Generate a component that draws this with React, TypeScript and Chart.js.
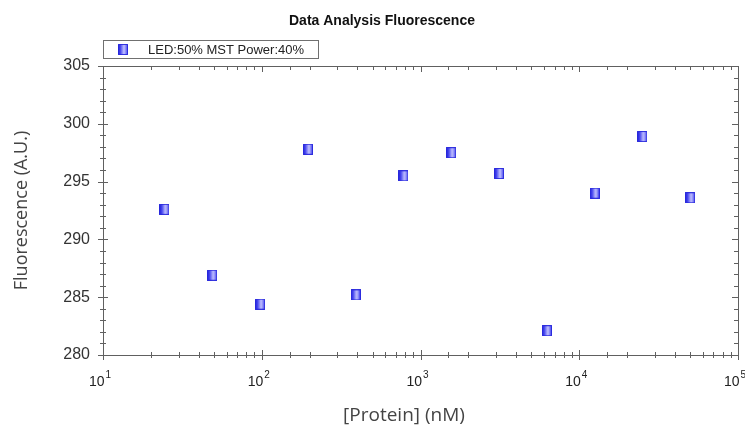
import React, { useEffect, useRef } from 'react';
import { Chart, registerables } from 'chart.js';

Chart.register(...registerables);

const concentrations = [24.4, 48.8, 97.7, 195.3, 390.6, 781.25, 1562.5, 3125, 6250, 12500, 25000, 50000];
const fluorescence = [292.6, 286.9, 284.4, 297.8, 285.2, 295.5, 297.5, 295.7, 282.1, 294.0, 298.9, 293.6];
const seriesLabel = 'LED:50% MST Power:40%';
const chartTitle = 'Data Analysis Fluorescence';
const xTitle = '[Protein] (nM)';
const yTitle = 'Fluorescence (A.U.)';
const xTickBase = '10';
const xTickExponents = ['1', '2', '3', '4', '5'];
const xMin = 10;
const xMax = 100000;
const yMin = 280;
const yMax = 305;
const yStep = 1;
const yLabelStep = 5;

function makeMarker(w: number, h: number): HTMLCanvasElement {
  const c = document.createElement('canvas');
  c.width = w;
  c.height = h;
  const ctx = c.getContext('2d')!;
  const g = ctx.createLinearGradient(0, 0, w, 0);
  g.addColorStop(0, '#1c1cd6');
  g.addColorStop(0.25, '#4a4af0');
  g.addColorStop(0.6, '#c4c4ff');
  g.addColorStop(1, '#3a3aee');
  ctx.fillStyle = g;
  const r = 1.5;
  ctx.beginPath();
  ctx.moveTo(r, 0);
  ctx.lineTo(w - r, 0);
  ctx.quadraticCurveTo(w, 0, w, r);
  ctx.lineTo(w, h - r);
  ctx.quadraticCurveTo(w, h, w - r, h);
  ctx.lineTo(r, h);
  ctx.quadraticCurveTo(0, h, 0, h - r);
  ctx.lineTo(0, r);
  ctx.quadraticCurveTo(0, 0, r, 0);
  ctx.closePath();
  ctx.fill();
  ctx.strokeStyle = 'rgba(40,40,220,0.9)';
  ctx.lineWidth = 1;
  ctx.strokeRect(0.5, 0.5, w - 1, h - 1);
  return c;
}

const isPow10 = (v: number) => {
  const l = Math.log10(v);
  return Math.abs(l - Math.round(l)) < 1e-9;
};

export default function App() {
  const ref = useRef<HTMLCanvasElement | null>(null);

  useEffect(() => {
    if (!ref.current) return;
    const marker = makeMarker(10, 11);
    const axisColor = '#606060';

    const framePlugin = {
      id: 'frameAndTicks',
      afterDraw(chart: any) {
        const ctx = chart.ctx;
        const { left, right, top, bottom } = chart.chartArea;
        const xs = chart.scales.x;
        const ys = chart.scales.y;
        ctx.save();
        ctx.strokeStyle = axisColor;
        ctx.lineWidth = 1;
        // frame
        ctx.strokeRect(Math.round(left) + 0.5, Math.round(top) + 0.5, Math.round(right - left), Math.round(bottom - top));
        ctx.beginPath();
        xs.ticks.forEach((t: any) => {
          const px = Math.round(xs.getPixelForValue(t.value)) + 0.5;
          const major = isPow10(t.value);
          const len = major ? 5 : 3;
          ctx.moveTo(px, bottom - len);
          ctx.lineTo(px, bottom + len);
          ctx.moveTo(px, top);
          ctx.lineTo(px, top + (major ? 6 : 4));
        });
        ys.ticks.forEach((t: any) => {
          const py = Math.round(ys.getPixelForValue(t.value)) + 0.5;
          const major = Math.round(t.value) % yLabelStep === 0;
          const len = major ? 5 : 3;
          ctx.moveTo(left - len, py);
          ctx.lineTo(left + len, py);
          ctx.moveTo(right, py);
          ctx.lineTo(right - (major ? 6 : 4), py);
        });
        ctx.stroke();

        // x tick labels: 10 with superscript exponent
        const baseFont = '14px "Liberation Sans", Arial, sans-serif';
        const expFont = '10px "Liberation Sans", Arial, sans-serif';
        ctx.fillStyle = '#222';
        ctx.textBaseline = 'alphabetic';
        ctx.textAlign = 'left';
        const majors = xs.ticks.filter((t: any) => isPow10(t.value));
        majors.forEach((t: any, i: number) => {
          const exp = xTickExponents[i] ?? String(Math.round(Math.log10(t.value)));
          const px = xs.getPixelForValue(t.value);
          ctx.font = baseFont;
          const bw = ctx.measureText(xTickBase).width;
          ctx.font = expFont;
          const ew = ctx.measureText(exp).width;
          const x0 = px - 3 - (bw + 1 + ew) / 2;
          ctx.font = baseFont;
          ctx.fillText(xTickBase, x0, 385.5);
          ctx.font = expFont;
          ctx.fillText(exp, x0 + bw + 1, 377.5);
        });

        // x title
        ctx.fillStyle = '#444';
        ctx.font = '19px "Open Sans", sans-serif';
        ctx.textAlign = 'center';
        ctx.textBaseline = 'middle';
        ctx.fillText(xTitle, 404, 416);

        // title
        ctx.fillStyle = '#111';
        ctx.font = 'bold 14px "Liberation Sans", Arial, sans-serif';
        ctx.textAlign = 'center';
        ctx.textBaseline = 'middle';
        ctx.fillText(chartTitle, 382, 21);

        // legend
        const label = chart.data.datasets[0].label;
        ctx.font = '13px "Liberation Sans", Arial, sans-serif';
        ctx.strokeStyle = '#707070';
        ctx.strokeRect(103.5, 40.5, 215, 18);
        ctx.drawImage(marker, 118, 44);
        ctx.fillStyle = '#222';
        ctx.textAlign = 'left';
        ctx.fillText(label, 148, 50);
        ctx.restore();
      },
    };

    const chart = new Chart(ref.current, {
      type: 'scatter',
      data: {
        datasets: [
          {
            label: seriesLabel,
            data: concentrations.map((c, i) => ({ x: c, y: fluorescence[i] })),
            pointStyle: marker as any,
            pointRadius: 6,
            showLine: false,
          },
        ],
      },
      options: {
        animation: false,
        responsive: false,
        devicePixelRatio: 1,
        layout: { padding: { top: 66, right: 7, left: 0, bottom: 0 } },
        plugins: {
          legend: { display: false },
          title: { display: false },
          tooltip: { enabled: false },
        },
        scales: {
          x: {
            type: 'logarithmic',
            min: xMin,
            max: xMax,
            grid: { display: false, drawTicks: false },
            border: { display: false },
            ticks: {
              display: false,
              autoSkip: false,
              maxRotation: 0,
            },
            title: { display: false, text: xTitle },
            afterFit: (s: any) => {
              s.height = 73;
              s.paddingLeft = 0;
              s.paddingRight = 0;
            },
          },
          y: {
            type: 'linear',
            min: yMin,
            max: yMax,
            grid: { display: false, drawTicks: false },
            border: { display: false },
            ticks: {
              stepSize: yStep,
              maxTicksLimit: 100,
              autoSkip: false,
              padding: 13,
              color: '#333',
              font: { family: '"Liberation Sans", Arial, sans-serif', size: 16 },
              callback: (v: any) => (Math.round(v) % yLabelStep === 0 ? String(v) : ''),
            },
            title: {
              display: true,
              text: yTitle,
              color: '#444',
              font: { family: '"Open Sans", sans-serif', size: 18 },
              padding: { top: 11, bottom: 0 },
            },
            afterFit: (s: any) => {
              s.width = 103;
              s.paddingTop = 0;
              s.paddingBottom = 0;
            },
          },
        },
      },
      plugins: [framePlugin],
    });
    return () => chart.destroy();
  }, []);

  return (
    <div style={{ position: 'fixed', left: 0, top: 0, width: 745, height: 428, background: '#fff' }}>
      <canvas ref={ref} width={745} height={428} style={{ width: 745, height: 428, display: 'block' }} />
    </div>
  );
}
